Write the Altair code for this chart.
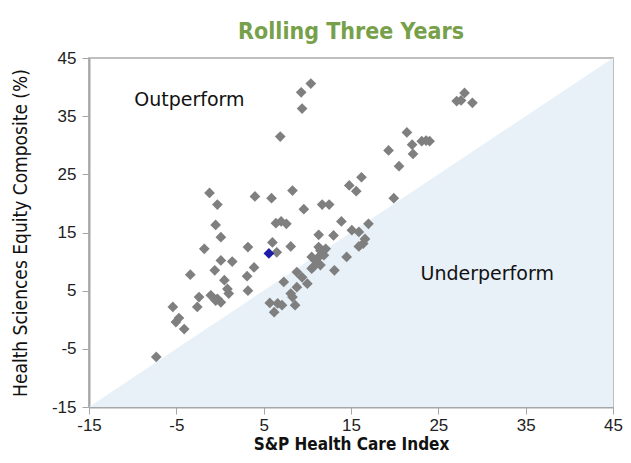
import altair as alt
import pandas as pd

# S&P Health Care Index (x) vs Health Sciences Equity Composite (y), rolling 3-year returns (%)
grey_x = [10.4, 9.3, 9.4, 6.9, 28.0, 27.1, 27.6, 28.9, 21.4, 22.0, 22.1, 23.1, 23.6, 24.0,
          19.3, 20.5, 19.9, 16.2, 14.8, 15.6, -1.2, -0.3, 4.0, 5.9, 8.3, 9.6, 11.7, 12.5,
          -0.5, 0.1, 6.4, 7.0, 7.6, 11.3, 13.0, 13.9, 15.1, 15.9, 17.0, 16.6, 16.4, 15.9,
          -1.8, 3.2, 6.0, 6.5, 8.1, 0.1, 1.4, -0.6, 3.9, 3.1, -3.4, 0.5, 0.85, 1.0,
          -1.05, -0.3, 0.1, -0.5, -2.4, -2.6, 3.2, -5.4, -4.7, -5.05, -4.1, -7.3,
          7.3, 8.8, 9.4, 8.8, 10.0, 8.1, 8.3, 8.6,
          11.3, 12.1, 11.5, 10.5, 11.3, 11.9, 10.9, 10.7, 11.5, 10.5, 14.5, 13.1,
          5.7, 6.6, 7.1, 6.2]
grey_y = [40.6, 39.1, 36.3, 31.5, 39.0, 37.6, 37.7, 37.3, 32.2, 30.1, 28.5, 30.7, 30.8, 30.7,
          29.1, 26.4, 20.9, 24.5, 23.1, 22.1, 21.8, 19.8, 21.2, 20.9, 22.2, 19.0, 19.8, 19.8,
          16.3, 14.2, 16.6, 16.9, 16.5, 14.6, 14.5, 16.9, 15.4, 15.1, 16.5, 13.9, 13.1, 12.6,
          12.2, 12.5, 13.3, 11.6, 12.6, 10.2, 10.0, 8.5, 9.0, 7.5, 7.75, 6.8, 5.3, 4.5,
          4.2, 3.6, 3.0, 3.3, 3.9, 2.2, 5.0, 2.2, 0.3, -0.4, -1.6, -6.4,
          6.5, 8.2, 7.3, 5.6, 6.2, 4.5, 3.9, 2.5,
          12.5, 12.2, 11.9, 10.8, 10.8, 11.1, 10.2, 9.1, 9.4, 8.8, 10.8, 8.5,
          2.9, 2.8, 2.5, 1.3]
blue_x = [5.6]
blue_y = [11.4]

tri_x = [-15, 45]
tri_y = [-15, 45]
tri_y2 = [-15, -15]

ticks = [-15, -5, 5, 15, 25, 35, 45]
labels_text = ["Outperform", "Underperform"]
labels_x = [-3.5, 30.6]
labels_y = [37.7, 7.9]

grey_df = pd.DataFrame({"x": grey_x, "y": grey_y})
blue_df = pd.DataFrame({"x": blue_x, "y": blue_y})
tri_df = pd.DataFrame({"x": tri_x, "y": tri_y, "y2": tri_y2})
lab_df = pd.DataFrame({"t": labels_text, "x": labels_x, "y": labels_y})

xs = alt.Scale(domain=[-15, 45], nice=False, zero=False)
ys = alt.Scale(domain=[-15, 45], nice=False, zero=False)

COND = "DejaVu Sans Condensed, Roboto, Liberation Sans"

xax = alt.Axis(values=ticks, title="S&P Health Care Index", titleFont=COND,
               titleFontWeight="bold", titleFontSize=17, titlePadding=3, labelPadding=3,
               labelExpr="'' + datum.value", labelFlush=False)
yax = alt.Axis(values=ticks, title="Health Sciences Equity Composite (%)",
               titleFont=COND, titleFontWeight="normal", titleFontSize=19,
               titlePadding=21, labelPadding=6, labelExpr="'' + datum.value", labelFlush=False)

area = alt.Chart(tri_df).mark_area(color="#e8f0f8", opacity=1).encode(
    x=alt.X("x:Q", scale=xs, axis=xax),
    y=alt.Y("y:Q", scale=ys, axis=yax),
    y2="y2:Q",
)

pts = alt.Chart(grey_df).mark_point(shape="diamond", filled=True, size=115, color="#7f7f7f", opacity=1).encode(
    x=alt.X("x:Q", scale=xs),
    y=alt.Y("y:Q", scale=ys),
)

bpt = alt.Chart(blue_df).mark_point(shape="diamond", filled=True, size=115, color="#1c1ca6", opacity=1).encode(
    x=alt.X("x:Q", scale=xs),
    y=alt.Y("y:Q", scale=ys),
)

txt = alt.Chart(lab_df).mark_text(font="DejaVu Sans", fontSize=19, color="#111111",
                                  align="center", baseline="middle").encode(
    x=alt.X("x:Q", scale=xs),
    y=alt.Y("y:Q", scale=ys),
    text="t:N",
)

chart = alt.layer(area, pts, bpt, txt).properties(
    width=524,
    height=349,
    autosize=alt.AutoSizeParams(type="none"),
    padding={"left": 81, "top": 50, "right": 10, "bottom": 48},
    title=alt.TitleParams("Rolling Three Years", font=COND, fontSize=23,
                          fontWeight="bold", color="#77a04a", anchor="middle", offset=5),
).configure_view(
    stroke="#bfbfbf", strokeWidth=2
).configure_axis(
    grid=False, domainColor="#a6a6a6", domainWidth=2, tickColor="#a6a6a6", tickSize=7,
    labelFont="Liberation Sans", labelFontSize=17, labelColor="#222222", titleColor="#111111",
)

chart.save("out.html", embed_options={"renderer": "svg", "actions": False})
